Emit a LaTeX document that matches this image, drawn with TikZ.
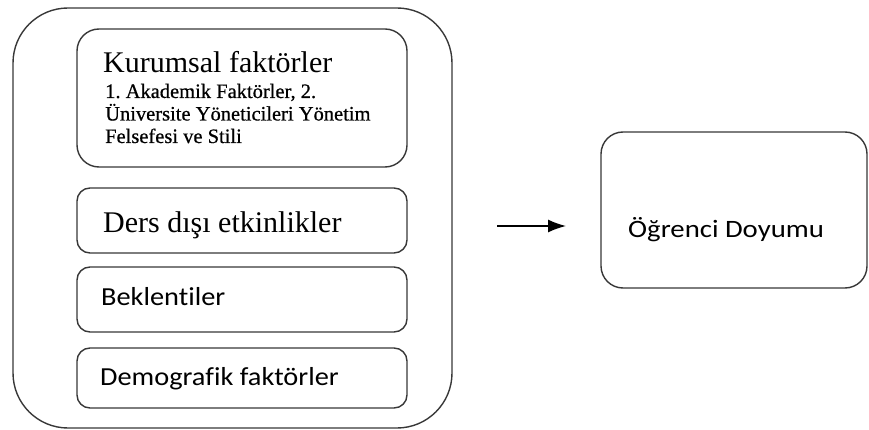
\documentclass[tikz,border=0pt]{standalone}
\usepackage{fontspec}
\newfontfamily\tnrfont{Liberation Serif}
\newfontfamily\tnrsfont[FakeBold=0.6]{Liberation Serif}
\newfontfamily\calafont[FakeStretch=1.09,Ligatures=NoCommon]{Carlito}
\newfontfamily\calbfont[FakeStretch=1.15,Ligatures=NoCommon]{Carlito}
\usetikzlibrary{arrows.meta}
\tikzset{
  box/.style={draw=black!78, line width=1.4pt, fill=white, inner sep=0pt},
  lbl/.style={inner sep=0pt, anchor=base west, text=black},
}
\begin{document}
\begin{tikzpicture}[x=1pt,y=-1pt]
\useasboundingbox (0,0) rectangle (869,430);
% outer container
\node[box, rounded corners=55pt, minimum width=439pt, minimum height=420pt] (outer) at (232.5,218) {};
% inner boxes
\node[box, rounded corners=22pt, minimum width=330pt, minimum height=138pt] (kur) at (242,98) {};
\node[box, rounded corners=13pt, minimum width=330pt, minimum height=65pt] (ders) at (242,220.5) {};
\node[box, rounded corners=13pt, minimum width=330pt, minimum height=65pt] (bek) at (242,299.5) {};
\node[box, rounded corners=13pt, minimum width=330pt, minimum height=60pt] (dem) at (242,378) {};
% right box
\node[box, rounded corners=22pt, minimum width=266pt, minimum height=156pt] (ogr) at (734,210) {};
% texts
\node[lbl, font=\tnrfont\fontsize{30}{34}\selectfont] (t1) at (103,73) {Kurumsal faktörler};
\node[lbl, align=left, font=\tnrsfont\fontsize{20.5}{22.5}\selectfont] (t1b) at (105,143) {1.\ Akademik Faktörler, 2.\\Üniversite Yöneticileri Yönetim\\Felsefesi ve Stili};
\node[lbl, font=\tnrfont\fontsize{30}{34}\selectfont] (t2) at (103,233) {Ders dışı etkinlikler};
\node[lbl, font=\calafont\fontsize{26}{30}\selectfont] (t3) at (101,305) {Beklentiler};
\node[lbl, font=\calafont\fontsize{26}{30}\selectfont] (t4) at (100,385) {Demografik faktörler};
\node[lbl, font=\calbfont\fontsize{25}{30}\selectfont] (t5) at (628,237) {Öğrenci Doyumu};
% arrow
\coordinate (a1) at (497,226);
\coordinate (a2) at (566,226);
\draw[line width=1.4pt, -{Latex[length=18pt,width=13pt]}] (a1) -- (a2);
\end{tikzpicture}
\end{document}
